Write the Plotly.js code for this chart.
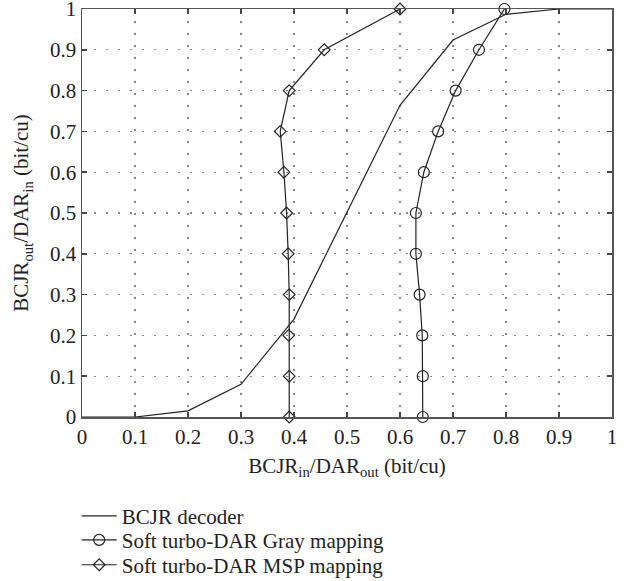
<!DOCTYPE html>
<html>
<head>
<meta charset="utf-8">
<script src="https://cdn.plot.ly/plotly-3.0.1.min.js"></script>
<style>html,body{margin:0;padding:0;background:#fff;}#chart{width:629px;height:581px;}</style>
</head>
<body>
<div id="chart"></div>
<script>
// BCJR decoder EXIT curve
const bcjrX = [0, 0.1, 0.2, 0.3, 0.4, 0.5, 0.6, 0.7, 0.8, 0.9, 1.0];
const bcjrY = [0, 0.0, 0.015, 0.08, 0.24, 0.50, 0.764, 0.924, 0.987, 1.0, 1.0];
// Soft turbo-DAR Gray mapping (x = BCJR_in/DAR_out, y = BCJR_out/DAR_in)
const grayY = [0, 0.1, 0.2, 0.3, 0.4, 0.5, 0.6, 0.7, 0.8, 0.9, 1.0];
const grayX = [0.643, 0.643, 0.642, 0.637, 0.630, 0.630, 0.645, 0.672, 0.705, 0.749, 0.797];
// Soft turbo-DAR MSP mapping
const mspY = [0, 0.1, 0.2, 0.3, 0.4, 0.5, 0.6, 0.7, 0.8, 0.9, 1.0];
const mspX = [0.391, 0.391, 0.390, 0.391, 0.389, 0.386, 0.381, 0.374, 0.391, 0.457, 0.600];
const tickVals = [0, 0.1, 0.2, 0.3, 0.4, 0.5, 0.6, 0.7, 0.8, 0.9, 1];
const tickText = ['0', '0.1', '0.2', '0.3', '0.4', '0.5', '0.6', '0.7', '0.8', '0.9', '1'];
const names = ['BCJR decoder', 'Soft turbo-DAR Gray mapping', 'Soft turbo-DAR MSP mapping'];

const lineColor = '#222';
const font = {family: 'Liberation Serif, Times New Roman, DejaVu Serif, serif', size: 21, color: '#222'};

const traces = [
  {x: bcjrX, y: bcjrY, name: names[0], mode: 'lines', type: 'scatter', legend: 'legend',
   cliponaxis: false, line: {color: lineColor, width: 1.2}},
  {x: grayX, y: grayY, name: names[1], mode: 'lines+markers', type: 'scatter', legend: 'legend2',
   cliponaxis: false, line: {color: lineColor, width: 1.2},
   marker: {symbol: 'circle-open', size: 11, color: lineColor, line: {width: 1.2, color: lineColor}}},
  {x: mspX, y: mspY, name: names[2], mode: 'lines+markers', type: 'scatter', legend: 'legend3',
   cliponaxis: false, line: {color: lineColor, width: 1.2},
   marker: {symbol: 'diamond-open', size: 9, color: lineColor, line: {width: 1.2, color: lineColor}}}
];

function axis(titleText, standoff) {
  return {
    range: [0, 1],
    tickvals: tickVals,
    ticktext: tickText,
    ticklabeloverflow: 'allow',
    showgrid: true,
    gridcolor: '#888',
    griddash: '2px,10px',
    gridwidth: 1.3,
    zeroline: false,
    showline: true,
    linecolor: '#555',
    linewidth: 1.5,
    mirror: 'ticks',
    ticks: 'inside',
    ticklen: 5,
    tickcolor: '#444',
    tickwidth: 1.5,
    tickfont: font,
    automargin: false,
    title: {text: titleText, font: font, standoff: standoff}
  };
}

function legendAt(y) {
  return {x: -0.01, xanchor: 'left', y: y, yanchor: 'middle', orientation: 'v',
          font: font, itemwidth: 35, bgcolor: 'rgba(0,0,0,0)', borderwidth: 0};
}

const layout = {
  width: 629, height: 581,
  margin: {l: 82, r: 17, t: 9, b: 164, autoexpand: false},
  paper_bgcolor: '#fff', plot_bgcolor: '#fff',
  font: font,
  showlegend: true,
  legend: legendAt(-0.243),
  legend2: legendAt(-0.302),
  legend3: legendAt(-0.363),
  xaxis: axis('BCJR<sub>in</sub>/DAR<sub>out</sub> (bit/cu)', 10),
  yaxis: axis('BCJR<sub>out</sub>/DAR<sub>in</sub> (bit/cu)', 15)
};

Plotly.newPlot('chart', traces, layout, {displayModeBar: false, staticPlot: true});
</script>
</body>
</html>
